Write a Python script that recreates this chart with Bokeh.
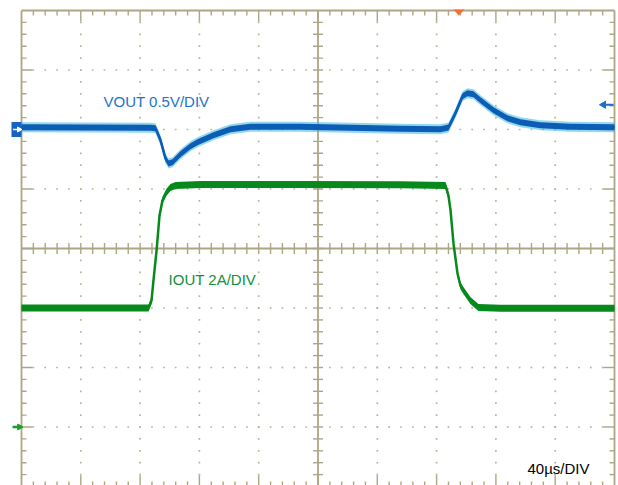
import numpy as np
from bokeh.plotting import figure
from bokeh.models import Range1d
from bokeh.core.properties import value
from bokeh.embed import file_html
from bokeh.resources import INLINE

# ---- scope settings ----
TIME_PER_DIV_US = 40
N_XDIV = 10
N_YDIV = 8
VOUT_V_PER_DIV = 0.5
IOUT_A_PER_DIV = 2
VOUT_OFFSET_DIV = 2      # channel 1 reference marker
IOUT_OFFSET_DIV = -3     # channel 2 reference marker (0 A)
TRIGGER_TIME_US = 295
TRIGGER_LEVEL_MV = 208

# ---- VOUT (AC coupled deviation, mV) ----
vout_t_us = [0, 87, 90.4, 93.8, 97.1, 99.2, 101.9, 107.2, 114, 118.7, 129.5, 141,
             154.5, 188, 222, 255.6, 282.6, 288, 292.7, 297.5, 300.8, 304.9, 309.6,
             318.4, 327.8, 336.6, 350, 370, 400]
vout_mv = [18, 14, 10, -91, -242, -285, -276, -209, -141, -108, -49, 2,
           23, 23, 14, 6, 2, 17, 136, 280, 305, 297, 246,
           162, 94, 61, 35, 23, 18]

# ---- IOUT (A) ----
iout_t_us = [0, 85.7, 87.7, 89.0, 91.1, 93.1, 95.1, 97.8, 100.5, 103.9, 120.7, 188,
             255.6, 286.0, 288.0, 289.4, 291.4, 294.1, 296.1, 298.1, 302.8, 308.2,
             323.1, 400]
iout_a = [4.0, 4.0, 4.25, 4.92, 5.93, 7.11, 7.62, 7.89, 8.05, 8.12, 8.15, 8.15,
          8.14, 8.12, 7.78, 7.28, 6.17, 5.16, 4.75, 4.59, 4.25, 4.02,
          3.99, 3.99]

labels = {"vout": "VOUT 0.5V/DIV", "iout": "IOUT 2A/DIV", "time": "40µs/DIV"}

# ---- layout ----
W, H = 618, 485
PAD_L, PAD_R, PAD_T, PAD_B = 21, 4, 10, -1
T_END = TIME_PER_DIV_US * N_XDIV
dx = T_END / (W - PAD_L - PAD_R)          # µs per pixel
dy = N_YDIV / (H - PAD_T - PAD_B)         # div per pixel
x0, x1 = -PAD_L * dx, T_END + PAD_R * dx
y0, y1 = -N_YDIV / 2 - PAD_B * dy, N_YDIV / 2 + PAD_T * dy

GRID = "#aca686"
DOT = "#b9b497"
BLUE = "#0d5cb6"
CYAN = "#35b8d8"
GREEN = "#07891c"

p = figure(width=W, height=H, x_range=Range1d(x0, x1), y_range=Range1d(y0, y1),
           output_backend="svg", toolbar_location=None, min_border=0,
           x_axis_location=None, y_axis_location=None,
           background_fill_color="white", border_fill_color="white",
           outline_line_color=None)
p.grid.grid_line_color = None

minor_x = np.arange(0, T_END + 1e-6, TIME_PER_DIV_US / 5)
minor_y = np.arange(-N_YDIV / 2, N_YDIV / 2 + 1e-6, 0.2)
YT, YB = N_YDIV / 2, -N_YDIV / 2

# dotted graticule
dxs, dys = [], []
for yy in range(-3, 4):
    if yy == 0:
        continue
    for xx in minor_x[1:-1]:
        dxs.append(xx); dys.append(yy)
for k in range(1, N_XDIV):
    xx = k * TIME_PER_DIV_US
    if k == N_XDIV // 2:
        continue
    for yy in minor_y[1:-1]:
        dxs.append(xx); dys.append(yy)
p.scatter(dxs, dys, marker="square", size=1.7, color=DOT, line_color=None)

# ticks on border and center cross
sx0, sy0, sx1, sy1 = [], [], [], []
for xx in minor_x[1:-1]:
    major = abs(xx / TIME_PER_DIV_US - round(xx / TIME_PER_DIV_US)) < 1e-6
    L = 11 if major else 5
    sx0 += [xx, xx, xx]; sx1 += [xx, xx, xx]
    sy0 += [YT, YB, -5.5 * dy]; sy1 += [YT - L * dy, YB + L * dy, 5.5 * dy]
for yy in minor_y[1:-1]:
    major = abs(yy - round(yy)) < 1e-6
    L = 11 if major else 5
    sy0 += [yy, yy, yy]; sy1 += [yy, yy, yy]
    sx0 += [0, T_END, T_END / 2 - 5 * dx]; sx1 += [L * dx, T_END - L * dx, T_END / 2 + 5 * dx]
p.segment(sx0, sy0, sx1, sy1, line_color=GRID, line_width=1.4)

# border and centre cross lines
bx0 = [0, 0, 0, T_END, 0, T_END / 2]
by0 = [YT, YB, YB, YB, 0, YB]
bx1 = [T_END, T_END, 0, T_END, T_END, T_END / 2]
by1 = [YT, YB, YT, YT, 0, YT]
p.segment(bx0, by0, bx1, by1, line_color=GRID, line_width=1.8)

# ---- traces ----
vt = np.array(vout_t_us)
vy = VOUT_OFFSET_DIV + np.array(vout_mv) / 1000.0 / VOUT_V_PER_DIV
p.varea(x=vt, y1=vy - 5 * dy, y2=vy + 5 * dy, fill_color=CYAN, fill_alpha=0.55)
p.varea(x=vt, y1=vy - 3 * dy, y2=vy + 3 * dy, fill_color=BLUE)
p.line(vt, vy, line_color=BLUE, line_width=2.5)

it = np.array(iout_t_us)
iy = IOUT_OFFSET_DIV + np.array(iout_a) / IOUT_A_PER_DIV
p.varea(x=it, y1=iy - 3.5 * dy, y2=iy + 3.5 * dy, fill_color=GREEN)
p.line(it, iy, line_color=GREEN, line_width=2.5)

# ---- markers ----
# channel 1 tab
p.rect(x=[-5 * dx], y=[VOUT_OFFSET_DIV], width=10 * dx, height=15 * dy,
       fill_color="#1663c4", line_color=None)
p.segment([-8.5 * dx], [VOUT_OFFSET_DIV], [-3 * dx], [VOUT_OFFSET_DIV],
          line_color="white", line_width=1.5)
p.scatter([-2.5 * dx], [VOUT_OFFSET_DIV], marker="triangle", angle=-np.pi / 2,
          size=5, color="white")
# channel 2 arrow
p.segment([-9 * dx], [IOUT_OFFSET_DIV], [-2 * dx], [IOUT_OFFSET_DIV],
          line_color="#1f9a2e", line_width=2.5)
p.scatter([-2 * dx], [IOUT_OFFSET_DIV], marker="triangle", angle=-np.pi / 2,
          size=6, color="#1f9a2e")
# trigger position
p.patch([TRIGGER_TIME_US - 5.5 * dx, TRIGGER_TIME_US + 5.5 * dx, TRIGGER_TIME_US],
        [YT + 1 * dy, YT + 1 * dy, YT - 5 * dy], fill_color="#f4702c", line_color=None)
# trigger level
trig_y = VOUT_OFFSET_DIV + TRIGGER_LEVEL_MV / 1000.0 / VOUT_V_PER_DIV
p.segment([T_END - 1 * dx], [trig_y], [T_END - 11 * dx], [trig_y],
          line_color="#1e6fc0", line_width=1.8)
p.scatter([T_END - 11 * dx], [trig_y], marker="triangle", angle=np.pi / 2,
          size=7, color="#1e6fc0")

# ---- labels ----
FONT = value("Liberation Sans")
p.text(x=[55.3], y=[2.473], text=[labels["vout"]], text_font=FONT,
       text_font_size="15px", text_color="#1b74c8", text_baseline="alphabetic")
p.text(x=[99.2], y=[-0.514], text=[labels["iout"]], text_font=FONT,
       text_font_size="15px", text_color="#12903c", text_baseline="alphabetic")
p.text(x=[341.3], y=[-3.697], text=[labels["time"]], text_font=FONT,
       text_font_size="15px", text_color="black", text_baseline="alphabetic")

open("out.html", "w").write(file_html(p, INLINE))
